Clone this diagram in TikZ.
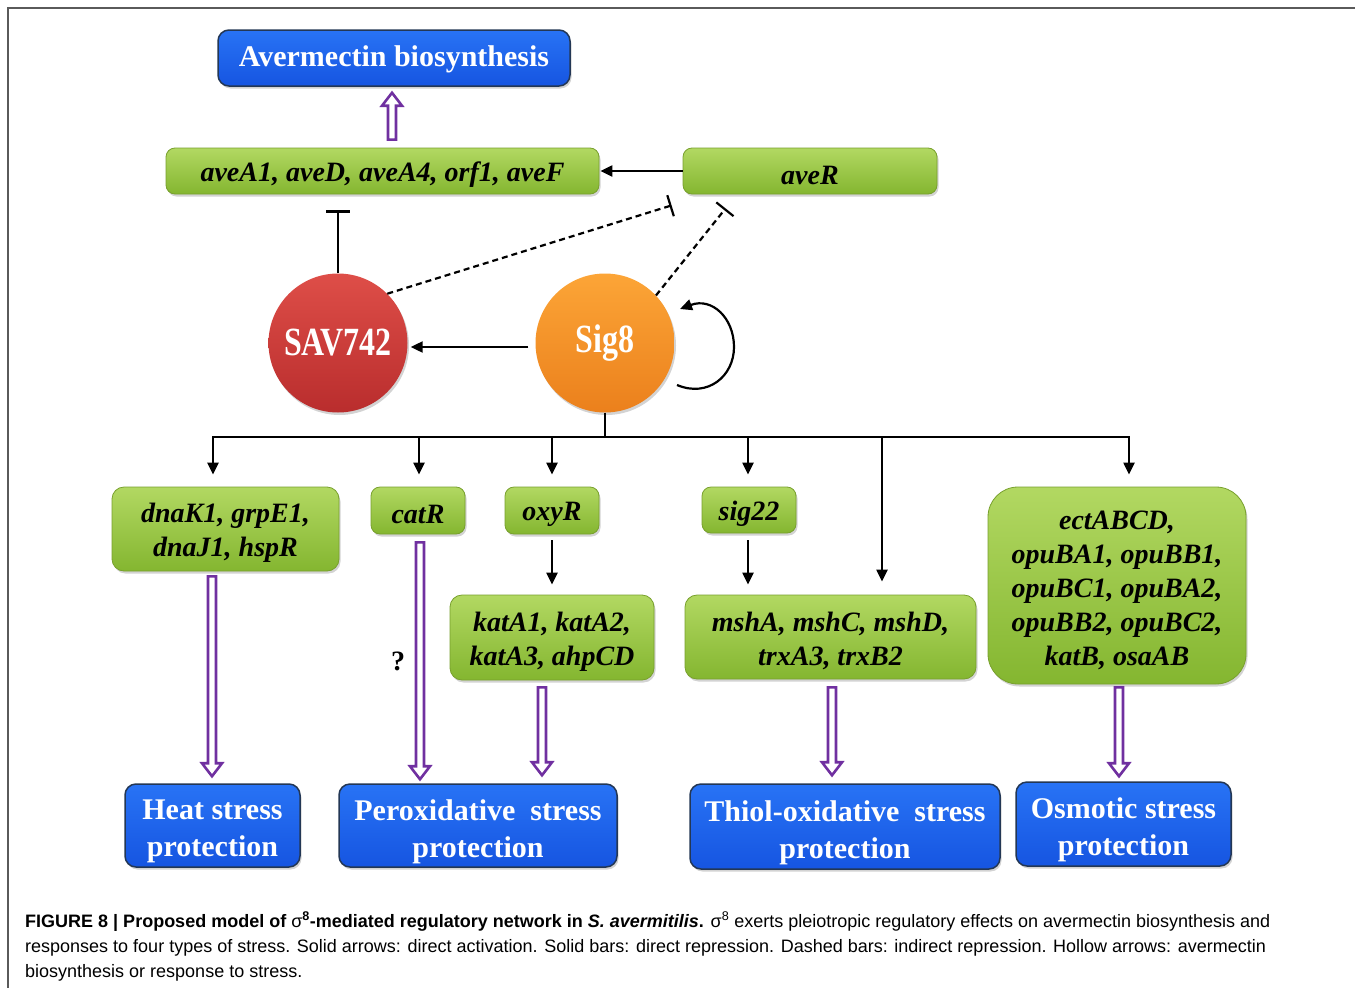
\documentclass[tikz,border=0pt]{standalone}
\usepackage{fontspec}
\setmainfont{Liberation Serif}
\newfontfamily\capfont{Liberation Sans}
\usetikzlibrary{arrows.meta,shadows,calc}
\definecolor{gtop}{RGB}{178,216,98}
\definecolor{gbot}{RGB}{132,182,48}
\definecolor{gedge}{RGB}{120,160,45}
\definecolor{btop}{RGB}{40,115,245}
\definecolor{bbot}{RGB}{22,85,225}
\definecolor{bedge}{RGB}{35,55,85}
\definecolor{rtop}{RGB}{222,78,72}
\definecolor{rbot}{RGB}{185,45,45}
\definecolor{otop}{RGB}{252,165,55}
\definecolor{obot}{RGB}{235,128,28}
\definecolor{hpurple}{RGB}{112,48,160}
\definecolor{frame}{RGB}{90,90,90}
\tikzset{
  gbox/.style={draw=gedge, line width=0.8pt, rounded corners=9pt, top color=gtop, bottom color=gbot,
    drop shadow={opacity=0.35,shadow xshift=1.5pt,shadow yshift=-2.5pt}, inner sep=0pt},
  gtxt/.style={font=\fontsize{28}{34}\selectfont\bfseries\itshape, align=center, inner sep=0pt, yshift=-4pt},
  bbox/.style={draw=bedge, line width=1.5pt, rounded corners=11pt, top color=btop, bottom color=bbot,
    drop shadow={opacity=0.35,shadow xshift=1.5pt,shadow yshift=-2.5pt}, inner sep=0pt},
  btxt/.style={text=white, font=\fontsize{30}{37}\selectfont\bfseries, align=center, inner sep=0pt, yshift=-6pt},
  ball/.style={circle, minimum size=139pt, inner sep=0pt, text=white,
    drop shadow={opacity=0.35,shadow xshift=1.5pt,shadow yshift=-2.5pt},
    font=\fontsize{32}{36}\selectfont\bfseries},
  arr/.style={line width=2.2pt, -{Triangle[length=12pt,width=11pt]}},
  barr/.style={line width=2.2pt, -{Bar[width=24pt,line width=2.2pt]}},
  dbar/.style={line width=2.2pt, dash pattern=on 6pt off 4pt, -{Bar[width=22pt,line width=2.2pt]}},
  hollow/.style={draw=hpurple, line width=2.6pt, fill=white, line join=miter},
  captext/.style={anchor=base west, inner sep=0pt, font=\capfont\fontsize{18}{25}\selectfont}
}
\newcommand{\harrow}[2]{%
  \draw[hollow] let \p1=(#1), \p2=(#2), \p3=($(#2)!13pt!(#1)$) in
   (\x1-4pt,\y1) -- (\x1+4pt,\y1) -- (\x1+4pt,\y3) -- (\x1+10pt,\y3) -- (\x1,\y2)
   -- (\x1-10pt,\y3) -- (\x1-4pt,\y3) -- cycle;}
\begin{document}
\begin{tikzpicture}[x=1pt,y=-1pt]
\useasboundingbox (0,0) rectangle (1355,988);
\draw[frame, line width=1.2pt] (8,988) -- (8,8) -- (1355,8);

% top
\node[bbox, minimum width=352pt, minimum height=56pt,
  label={[btxt, yshift=5pt]center:Avermectin biosynthesis}] (aver) at (394,58) {};
\node[gbox, minimum width=433pt, minimum height=46pt,
  label={[gtxt]center:{aveA1, aveD, aveA4, orf1, aveF}}] (avea) at (382.5,171) {};
\node[gbox, minimum width=254pt, minimum height=46pt,
  label={[gtxt]center:aveR}] (aver2) at (810,171) {};

% circles
\node[ball, top color=rtop, bottom color=rbot] (sav) at (338,343) {\scalebox{1}[1.25]{SAV742}};
\node[ball, top color=otop, bottom color=obot] (sig) at (605,343) {\scalebox{1}[1.25]{Sig8}};

% middle boxes
\node[gbox, rounded corners=12pt, minimum width=227pt, minimum height=84pt,
  label={[gtxt]center:{dnaK1, grpE1,\\ dnaJ1, hspR}}] (dnak) at (225.5,529) {};
\node[gbox, minimum width=94pt, minimum height=47pt,
  label={[gtxt]center:catR}] (catr) at (418,510.5) {};
\node[gbox, minimum width=94pt, minimum height=47pt,
  label={[gtxt]center:oxyR}] (oxyr) at (552,510.5) {};
\node[gbox, minimum width=94pt, minimum height=46pt,
  label={[gtxt]center:sig22}] (sig22) at (749,510) {};
\node[gbox, rounded corners=30pt, minimum width=258pt, minimum height=197pt,
  label={[gtxt, yshift=-1pt]center:{ectABCD,\\ opuBA1, opuBB1,\\ opuBC1, opuBA2,\\ opuBB2, opuBC2,\\ katB, osaAB}}] (ect) at (1117,585.5) {};
\node[gbox, rounded corners=12pt, minimum width=204pt, minimum height=85pt,
  label={[gtxt]center:{katA1, katA2,\\ katA3, ahpCD}}] (kata) at (552,637.5) {};
\node[gbox, rounded corners=12pt, minimum width=291pt, minimum height=84pt,
  label={[gtxt]center:{mshA, mshC, mshD,\\ trxA3, trxB2}}] (msha) at (830.5,637) {};

% bottom boxes
\node[bbox, minimum width=175pt, minimum height=83pt,
  label={[btxt]center:{Heat stress\\ protection}}] (heat) at (212.5,825.5) {};
\node[bbox, minimum width=278pt, minimum height=83pt,
  label={[btxt]center:{Peroxidative\ \ stress\\ protection}}] (perox) at (478,825.5) {};
\node[bbox, minimum width=310pt, minimum height=85pt,
  label={[btxt]center:{Thiol-oxidative\ \ stress\\ protection}}] (thiol) at (845,826.5) {};
\node[bbox, minimum width=215pt, minimum height=84pt,
  label={[btxt]center:{Osmotic stress\\ protection}}] (osmo) at (1123.5,824) {};

\node[font=\fontsize{28}{30}\selectfont\bfseries, inner sep=0pt] (q) at (398,661) {?};

% top connectors
\draw[arr, shorten >=1pt] (aver2.west) -- (avea.east);
\coordinate (barend) at (sav.north |- avea.south);
\draw[barr] (sav.north) -- ([yshift=-16pt]barend);
\coordinate (d1) at ($(aver2.south west)+(-11,11)$);
\coordinate (d2) at ($(aver2.south west)+(43,14)$);
\draw[dbar] (sav.45) -- (d1);
\draw[dbar] (sig.43) -- (d2);
\draw[arr] ([xshift=-7pt,yshift=-4pt]sig.west) -- ([xshift=3pt,yshift=-4pt]sav.east);
\coordinate (l1) at (677,385);
\coordinate (l2) at (680,309);
\draw[arr] (l1) .. controls (708,398) and (734,376) .. (734,347) .. controls (734,318) and (712,297) .. (l2);

% bus
\coordinate (bus) at (605,437);
\coordinate (b1) at (213,437);
\coordinate (b2) at (419,437);
\coordinate (b3) at (552,437);
\coordinate (b4) at (748,437);
\coordinate (b5) at (882,437);
\coordinate (b6) at (1129,437);
\draw[line width=2.2pt] (sig.south) -- (bus);
\draw[line width=2.2pt, line cap=rect] (b1) -- (b6);
\draw[arr, shorten >=12pt] (b1) -- (b1 |- dnak.north);
\draw[arr, shorten >=12pt] (b2) -- (b2 |- catr.north);
\draw[arr, shorten >=12pt] (b3) -- (b3 |- oxyr.north);
\draw[arr, shorten >=12pt] (b4) -- (b4 |- sig22.north);
\draw[arr, shorten >=13pt] (b5) -- (b5 |- msha.north);
\draw[arr, shorten >=12pt] (b6) -- (b6 |- ect.north);
\draw[arr, shorten <=6pt, shorten >=10pt] (oxyr.south) -- (oxyr.south |- kata.north);
\draw[arr, shorten <=7pt, shorten >=10pt] ([xshift=-1pt]sig22.south) -- ([xshift=-1pt]sig22.south |- msha.north);

% hollow arrows
\coordinate (h0a) at ($(avea.north)+(9.5,-8)$);
\coordinate (h0b) at ($(aver.south)+(-2,6)$);
\harrow{h0a}{h0a |- h0b}
\coordinate (h1a) at ($(dnak.south)+(-13.5,5)$);
\coordinate (h1b) at ($(heat.north)+(0,-7)$);
\harrow{h1a}{h1a |- h1b}
\coordinate (h2a) at ($(catr.south)+(2,8)$);
\coordinate (h2b) at ($(perox.north)+(0,-4)$);
\harrow{h2a}{h2a |- h2b}
\coordinate (h3a) at ($(kata.south)+(-10,7)$);
\coordinate (h3b) at ($(perox.north)+(0,-8)$);
\harrow{h3a}{h3a |- h3b}
\coordinate (h4a) at ($(msha.south)+(1.5,8)$);
\coordinate (h4b) at ($(thiol.north)+(0,-8)$);
\harrow{h4a}{h4a |- h4b}
\coordinate (h5a) at ($(ect.south)+(2,3)$);
\coordinate (h5b) at ($(osmo.north)+(0,-5)$);
\harrow{h5a}{h5a |- h5b}

% caption
\node[captext] (cap1) at (25,927) {\textbf{FIGURE 8 | Proposed model of {\mdseries σ}\textsuperscript{8}-mediated regulatory network in \textit{S. avermitilis}.} σ\textsuperscript{8} exerts pleiotropic regulatory effects on avermectin biosynthesis and};
\node[captext] (cap2) at (25,952) {responses to four types of stress. Solid arrows: direct activation. Solid bars: direct repression. Dashed bars: indirect repression. Hollow arrows: avermectin};
\node[captext] (cap3) at (25,977) {biosynthesis or response to stress.};
\end{tikzpicture}
\end{document}
